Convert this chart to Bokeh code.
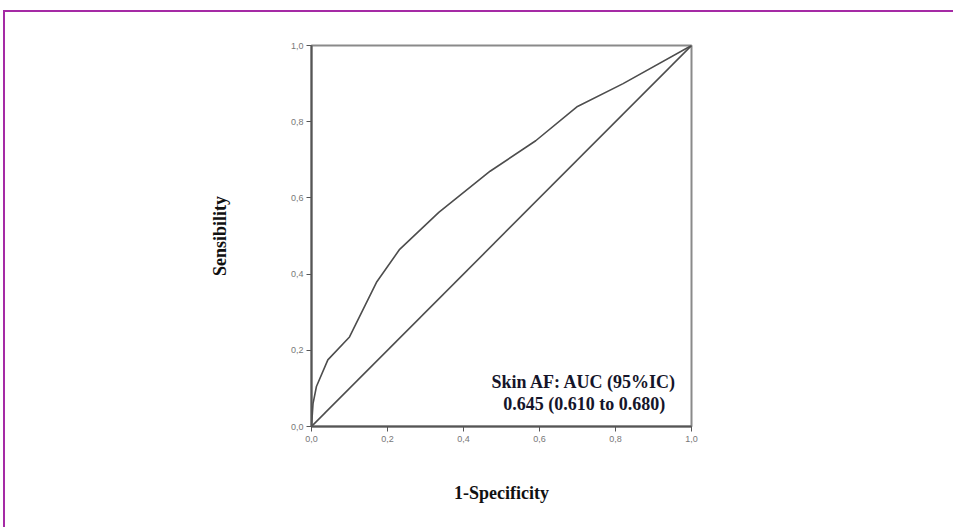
from bokeh.plotting import figure
from bokeh.models import Label, FixedTicker
from bokeh.embed import file_html
from bokeh.resources import INLINE

# ROC curve points (1-specificity, sensitivity)
fpr = [0.0, 0.004, 0.013, 0.043, 0.10, 0.172, 0.232, 0.335, 0.47, 0.59, 0.70, 0.82, 1.0]
tpr = [0.0, 0.06, 0.105, 0.175, 0.235, 0.38, 0.465, 0.562, 0.67, 0.75, 0.84, 0.90, 1.0]
ref_x = [0.0, 1.0]
ref_y = [0.0, 1.0]
tick_values = [0.0, 0.2, 0.4, 0.6, 0.8, 1.0]
tick_labels = ["0,0", "0,2", "0,4", "0,6", "0,8", "1,0"]
x_title = "1-Specificity"
y_title = "Sensibility"
note_lines = ["Skin AF: AUC (95%IC)", "0.645 (0.610 to 0.680)"]

# figure placed inside a purple page frame (top/left borders visible)
off_x, off_y = 5, 12
p = figure(width=955 - off_x, height=529 - off_y, output_backend="svg", toolbar_location=None,
           x_range=(0, 1), y_range=(0, 1),
           min_border_left=311 - off_x, min_border_right=264,
           min_border_top=45 - off_y, min_border_bottom=103,
           styles={"margin-left": "3px", "margin-top": "10px",
                   "border-left": "2px solid #a52aa5", "border-top": "2px solid #a52aa5"})
p.grid.visible = False
p.outline_line_color = "#8a8a8a"
p.outline_line_width = 2
p.background_fill_color = "white"
p.border_fill_color = "white"

overrides = {v: l for v, l in zip(tick_values, tick_labels)}
for ax in (p.xaxis[0], p.yaxis[0]):
    ax.ticker = FixedTicker(ticks=tick_values)
    ax.major_label_overrides = overrides
    ax.minor_tick_line_color = None
    ax.major_tick_in = 0
    ax.major_tick_out = 5
    ax.major_tick_line_color = "#555555"
    ax.axis_line_color = "#555555"
    ax.axis_line_width = 2
    ax.major_label_text_font = "Liberation Sans"
    ax.major_label_text_font_size = "9px"
    ax.major_label_text_color = "#777777"
    ax.axis_label_text_font = "Liberation Serif"
    ax.axis_label_text_font_style = "bold"
    ax.axis_label_text_font_size = "18px"
    ax.axis_label_text_color = "#111111"

p.xaxis[0].axis_label = x_title
p.yaxis[0].axis_label = y_title
p.xaxis[0].major_label_standoff = 4
p.yaxis[0].major_label_standoff = 3
p.xaxis[0].axis_label_standoff = 38
p.yaxis[0].axis_label_standoff = 58

p.line(ref_x, ref_y, line_color="#4d4d4d", line_width=1.6)
p.line(fpr, tpr, line_color="#4d4d4d", line_width=1.6)

for i, t in enumerate(note_lines):
    p.add_layout(Label(x=0.718, y=0.118 - i * 0.058, text=t, text_align="center",
                       text_baseline="middle", text_font="Liberation Serif",
                       text_font_style="bold", text_font_size="18px",
                       text_color="#15152a"))

open("out.html", "w").write(file_html(p, INLINE))
